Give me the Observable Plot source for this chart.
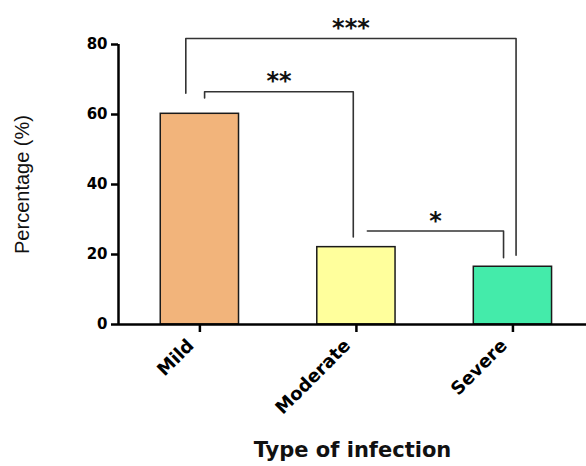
<!DOCTYPE html>
<html>
<head>
<meta charset="utf-8">
<script src="https://cdn.jsdelivr.net/npm/d3@7"></script>
<script src="https://cdn.jsdelivr.net/npm/@observablehq/plot@0.6"></script>
<style>
  html, body { margin: 0; padding: 0; background: #fff; }
</style>
</head>
<body>
<div id="chart"></div>
<script>
// ---- data ----
const categories = ["Mild", "Moderate", "Severe"];
const percentages = [60.2, 22.1, 16.5];
const barColors = ["#F2B47B", "#FFFF9C", "#44EBAA"];
const yTicks = [0, 20, 40, 60, 80];

// significance brackets (data units: x = category index, y = percentage)
const sigLabels = ["***", "**", "*"];
const sigLevel = [81.7, 66.5, 26.7];
const sigFrom = [-0.09, 0.03, 1.07];
const sigTo = [2.02, 0.98, 1.94];
const sigLegFrom = [66.1, 64.7, 26.7];
const sigLegTo = [19.8, 25.0, 19.1];

const xLabel = "Type of infection";
const yLabel = "Percentage (%)";

// ---- build tables ----
const bars = categories.map((c, i) => ({ i, category: c, value: percentages[i], color: barColors[i] }));
const sigs = sigLabels.map((s, k) => ({ label: s, level: sigLevel[k], from: sigFrom[k], to: sigTo[k] }));
const bracketPts = sigLabels.flatMap((s, k) => [
  { z: s, x: sigFrom[k], y: sigLegFrom[k] },
  { z: s, x: sigFrom[k], y: sigLevel[k] },
  { z: s, x: sigTo[k], y: sigLevel[k] },
  { z: s, x: sigTo[k], y: sigLegTo[k] }
]);

const xDomain = [-0.52, 2.47];
const bold = "DejaVu Sans";
const catIdx = categories.map((c, i) => i);

const chart = Plot.plot({
  width: 586,
  height: 466,
  marginLeft: 118,
  marginRight: 0,
  marginTop: 44,
  marginBottom: 142,
  style: { background: "#fff", color: "#000", fontFamily: bold },
  x: { type: "linear", domain: xDomain },
  y: { domain: [0, 80] },
  marks: [
    Plot.rectY(bars, {
      x1: d => d.i - 0.25, x2: d => d.i + 0.25, y1: 0, y2: "value",
      fill: "color", stroke: "#1a1a1a", strokeWidth: 1.5
    }),
    Plot.line(bracketPts, { x: "x", y: "y", z: "z", stroke: "#333", strokeWidth: 1.6 }),
    Plot.text(sigs, {
      x: d => (d.from + d.to) / 2, y: "level", text: "label",
      dy: -10, fontSize: 24, fontWeight: "bold", fontFamily: bold, fill: "#111"
    }),
    Plot.ruleY([0], { stroke: "#000", strokeWidth: 2.5 }),
    Plot.ruleX([xDomain[0]], { y1: 0, y2: 80, stroke: "#000", strokeWidth: 2.5 }),
    Plot.axisY({
      ticks: yTicks, tickSize: 7, tickPadding: 4, strokeWidth: 2.5,
      fontSize: 15, fontWeight: "bold", fontFamily: bold, label: null
    }),
    // x tick marks
    Plot.axisX({
      ticks: catIdx, tickFormat: () => "", tickSize: 8, strokeWidth: 2.5, label: null
    }),
    // x tick labels
    Plot.axisX({
      ticks: catIdx, tickFormat: i => categories[i], tickSize: 0, tickPadding: 18, dx: -9,
      tickRotate: -45, fontSize: 18, fontWeight: "bold", fontFamily: bold, label: null
    }),
    Plot.text([yLabel], {
      frameAnchor: "left", textAnchor: "middle", dx: -96, rotate: -90, fontSize: 20,
      fontFamily: "Liberation Sans", fill: "#111"
    }),
    Plot.text([xLabel], {
      frameAnchor: "bottom", dy: 132, fontSize: 21, fontWeight: "bold",
      fontFamily: bold, fill: "#111"
    })
  ]
});
document.getElementById("chart").appendChild(chart);
</script>
</body>
</html>
